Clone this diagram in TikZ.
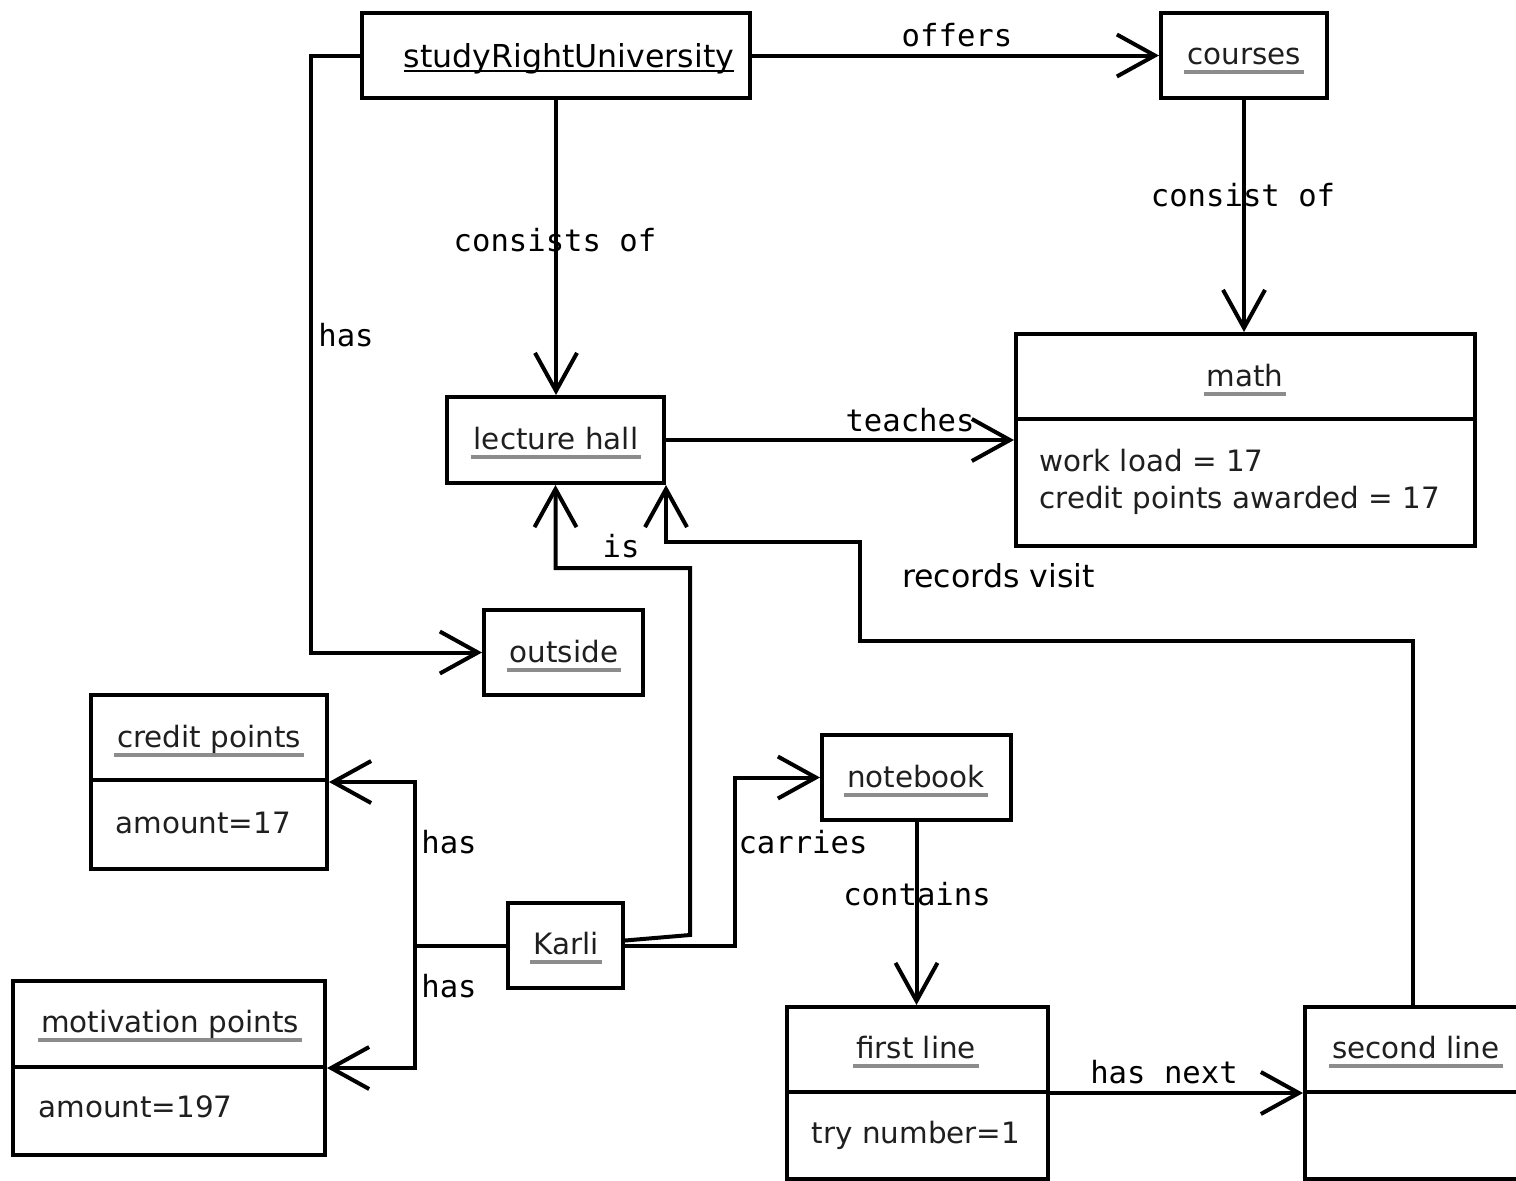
\documentclass[tikz,border=0pt]{standalone}
\usepackage{fontspec}
\setmainfont{DejaVu Sans}
\newfontfamily\monof{DejaVu Sans Mono}
\usetikzlibrary{arrows.meta}
\definecolor{ulgray}{gray}{0.55}
\definecolor{txt}{gray}{0.12}
\newsavebox\ulbox
\newcommand\gul[1]{\sbox\ulbox{#1}\leavevmode\rlap{\hspace{-1.5pt}\color{ulgray}\rule[-4.8pt]{\dimexpr\wd\ulbox+3pt\relax}{1.6pt}}\usebox\ulbox}
\newcommand\bul[1]{\sbox\ulbox{#1}\leavevmode\rlap{\rule[-2.6pt]{\wd\ulbox}{1.1pt}}\usebox\ulbox}
\tikzset{
  obj/.style={draw, line width=2pt, inner sep=0pt},
  boxtxt/.style={font=\fontsize{14.7pt}{18.5pt}\selectfont, text=txt, inner sep=0pt},
  bigtxt/.style={font=\fontsize{15.8pt}{19pt}\selectfont, inner sep=0pt},
  lbl/.style={font=\monof\fontsize{15.3pt}{18pt}\selectfont, inner sep=0pt},
  conn/.style={line width=2pt},
  arr/.style={line width=2pt, -{Straight Barb[length=19pt,width=21pt]}},
  divl/.style={line width=2pt}
}
\begin{document}
\begin{tikzpicture}[x=0.5pt,y=-0.5pt]
\useasboundingbox (0,0) rectangle (1516,1180);
% boxes
\node[obj, minimum width=194pt, minimum height=42.5pt] (sru) at (556,55.5) {};
\node[obj, minimum width=83pt, minimum height=42.5pt] (courses) at (1244,55.5) {};
\node[obj, minimum width=229.5pt, minimum height=106pt] (math) at (1245.5,440) {};
\node[obj, minimum width=108.5pt, minimum height=43pt] (lh) at (555.5,440) {};
\node[obj, minimum width=79.5pt, minimum height=42.5pt] (outside) at (563.5,652.5) {};
\node[obj, minimum width=57.5pt, minimum height=42.5pt] (karli) at (565.5,945.5) {};
\node[obj, minimum width=94.5pt, minimum height=42.5pt] (notebook) at (916.5,777.5) {};
\node[obj, minimum width=130.5pt, minimum height=86pt] (firstline) at (917.5,1093) {};
\node[obj, minimum width=107.5pt, minimum height=86pt] (secondline) at (1412.5,1093) {};
\node[obj, minimum width=118pt, minimum height=87pt] (creditpts) at (209,782) {};
\node[obj, minimum width=156pt, minimum height=87pt] (motiv) at (169,1068) {};
% dividers
\coordinate (dmath) at (0,419);
\coordinate (dcred) at (0,780);
\coordinate (dmot) at (0,1067);
\coordinate (dline) at (0,1092);
\draw[divl] (math.west |- dmath) -- (math.east |- dmath);
\draw[divl] (creditpts.west |- dcred) -- (creditpts.east |- dcred);
\draw[divl] (motiv.west |- dmot) -- (motiv.east |- dmot);
\draw[divl] (firstline.west |- dline) -- (firstline.east |- dline);
\draw[divl] (secondline.west |- dline) -- (secondline.east |- dline);
% box texts
\node[bigtxt, anchor=base] (tsru) at (569,67) {\bul{studyRightUniversity}};
\node[boxtxt, anchor=base] (tcourses) at (1244,64) {\gul{courses}};
\node[boxtxt, anchor=base] (tmath) at (1245,386) {\gul{math}};
\node[boxtxt, anchor=base west] (tmatha) at (1039,471) {work load = 17};
\node[boxtxt, anchor=base west] (tmathb) at (1039,508) {credit points awarded = 17};
\node[boxtxt, anchor=base] (tlh) at (556,449) {\gul{lecture hall}};
\node[boxtxt, anchor=base] (toutside) at (564,662) {\gul{outside}};
\node[boxtxt, anchor=base] (tkarli) at (566,954) {\gul{Karli}};
\node[boxtxt, anchor=base] (tnotebook) at (916,787) {\gul{notebook}};
\node[boxtxt, anchor=base] (tfirst) at (916,1058) {\gul{first line}};
\node[boxtxt, anchor=base] (ttry) at (916,1143) {try number=1};
\node[boxtxt, anchor=base] (tsecond) at (1416,1058) {\gul{second line}};
\node[boxtxt, anchor=base] (tcred) at (209,747) {\gul{credit points}};
\node[boxtxt, anchor=base west] (tcreda) at (115,833) {amount=17};
\node[boxtxt, anchor=base] (tmot) at (170,1032) {\gul{motivation points}};
\node[boxtxt, anchor=base west] (tmota) at (38,1117) {amount=197};
% connectors
\draw[arr] (sru.east) -- (courses.west);
\draw[arr] (courses.south) -- (courses.south |- math.north);
\draw[arr] (sru.south) -- (sru.south |- lh.north);
\draw[arr] (sru.west) -- ++(-49,0) |- (outside.west);
\draw[arr] (lh.east) -- (math.west);
\draw[arr] ([yshift=2.5pt]karli.east) -- (690,935) -- (690,568) -| (lh.south);
\draw[arr] (secondline.north) |- (860,641) -- (860,542) -| (lh.south east);
\draw[arr] (karli.east) -- ++(110,0) |- (notebook.west);
\draw[arr] (notebook.south) -- (notebook.south |- firstline.north);
\draw[arr] (firstline.east) -- (secondline.west);
\draw[arr] (karli.west) -- ++(-91,0) |- (creditpts.east);
\draw[arr] (karli.west) -- ++(-91,0) |- (motiv.east);
% labels
\node[lbl, anchor=base] (loffers) at (957,46) {offers};
\node[lbl, anchor=base] (lconsist) at (1243,206) {consist of};
\node[lbl, anchor=base] (lconsists) at (555,251) {consists of};
\node[lbl, anchor=base west] (lhas) at (318,346) {has};
\node[lbl, anchor=base] (lteaches) at (910,431) {teaches};
\node[lbl, anchor=base] (lis) at (621,557) {is};
\node[bigtxt, anchor=base] (lrecords) at (998.5,587) {records visit};
\node[lbl, anchor=base west] (lhas2) at (421,853) {has};
\node[lbl, anchor=base west] (lhas3) at (421,997) {has};
\node[lbl, anchor=base] (lcarries) at (803,853) {carries};
\node[lbl, anchor=base] (lcontains) at (917,905) {contains};
\node[lbl, anchor=base] (lnext) at (1164,1083) {has next};
\end{tikzpicture}
\end{document}
